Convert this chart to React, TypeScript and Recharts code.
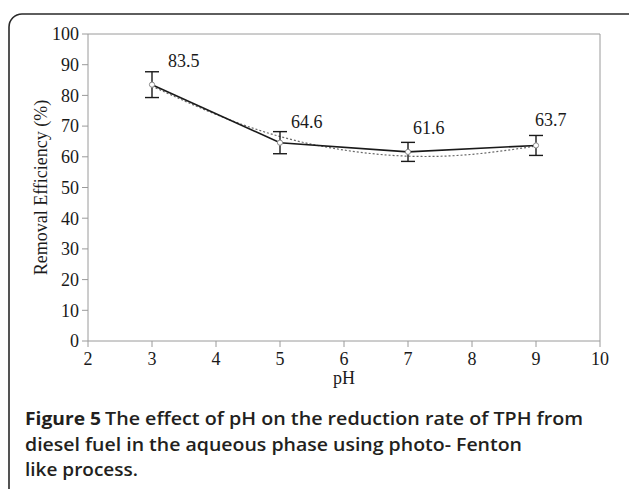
import React from 'react';
import { LineChart, Line, XAxis, YAxis, ErrorBar, LabelList, ReferenceLine, Label } from 'recharts';

const phLevels = [3, 5, 7, 9];
const removalEfficiency = [83.5, 64.6, 61.6, 63.7];
const errorValues = [4.2, 3.6, 3.1, 3.25];
const trendPh = [3, 4, 5, 6, 7, 8, 9];
const trendValues = [83.0, 73.8, 66.6, 62.2, 60.2, 60.8, 63.5];
const xTicks = [2, 3, 4, 5, 6, 7, 8, 9, 10];
const yTicks = [0, 10, 20, 30, 40, 50, 60, 70, 80, 90, 100];

const mainData = phLevels.map((p, i) => ({ ph: p, value: removalEfficiency[i], err: errorValues[i] }));
const trendData = trendPh.map((p, i) => ({ ph: p, trend: trendValues[i] }));

const serif = '"Liberation Serif", "Times New Roman", serif';
const sans = '"Open Sans", "Noto Sans", sans-serif';
const axisGrey = '#9a9a9a';
const textDark = '#1a1a1a';

// per-label placement (styling), mirroring the manual label nudges of the original
const labelNudge = [
  { dx: 16, dy: -18 },
  { dx: 11, dy: -15 },
  { dx: 5, dy: -18 },
  { dx: -1, dy: -19 },
];

const renderValueLabel = (props: any) => {
  const { x, y, value, index } = props;
  const n = labelNudge[index] || { dx: 10, dy: -16 };
  return (
    <text x={x + n.dx} y={y + n.dy} fontFamily={serif} fontSize={18} fill={textDark}>
      {Number(value).toFixed(1)}
    </text>
  );
};

const captionStyle: React.CSSProperties = { fontVariantLigatures: 'none' };

export default function App() {
  return (
    <div style={{ position: 'absolute', left: 0, top: 0, width: 629, height: 489, background: '#fff', overflow: 'hidden' }}>
      <svg width={629} height={489} style={{ position: 'absolute', left: 0, top: 0 }}>
        <rect x={9} y={14} width={640} height={490} rx={13} ry={13} fill="none" stroke="#2a2a2a" strokeWidth={1.6} />
        <text x={25} y={425} style={captionStyle} fontFamily={sans} fontSize={17.5} fontWeight={700} fill="#231f20" textLength={76} lengthAdjust="spacingAndGlyphs">
          Figure 5
        </text>
        <text x={105} y={425} style={captionStyle} fontFamily={sans} fontSize={17.5} fontWeight={600} fill="#231f20" textLength={478} lengthAdjust="spacingAndGlyphs">
          The effect of pH on the reduction rate of TPH from
        </text>
        <text x={25} y={451} style={captionStyle} fontFamily={sans} fontSize={17.5} fontWeight={600} fill="#231f20" textLength={497} lengthAdjust="spacingAndGlyphs">
          diesel fuel in the aqueous phase using photo- Fenton
        </text>
        <text x={25} y={476} style={captionStyle} fontFamily={sans} fontSize={17.5} fontWeight={600} fill="#231f20" textLength={113} lengthAdjust="spacingAndGlyphs">
          like process.
        </text>
      </svg>
      <div style={{ position: 'absolute', left: 0, top: 0 }}>
        <LineChart width={629} height={400} margin={{ top: 34, right: 29, left: 0, bottom: 9 }}>
          <XAxis
            type="number"
            dataKey="ph"
            domain={[2, 10]}
            ticks={xTicks}
            allowDataOverflow
            height={50}
            stroke={axisGrey}
            tickSize={6}
            tickMargin={5}
            tick={{ fontFamily: serif, fontSize: 18, fill: textDark }}
            tickLine={{ stroke: axisGrey }}
          >
            <Label
              content={(p: any) => {
                const vb = p.viewBox;
                return (
                  <text x={vb.x + vb.width / 2} y={vb.y + 43} textAnchor="middle" fontFamily={serif} fontSize={18} fill={textDark}>
                    pH
                  </text>
                );
              }}
            />
          </XAxis>
          <YAxis
            type="number"
            domain={[0, 100]}
            ticks={yTicks}
            width={88}
            stroke={axisGrey}
            tickSize={6}
            tickMargin={3}
            tick={{ fontFamily: serif, fontSize: 18, fill: textDark }}
            tickLine={{ stroke: axisGrey }}
          >
            <Label
              content={(p: any) => {
                const vb = p.viewBox;
                const cx = vb.x + 47;
                const cy = vb.y + vb.height / 2;
                return (
                  <text x={cx} y={cy} textAnchor="middle" transform={`rotate(-90 ${cx} ${cy})`} fontFamily={serif} fontSize={18} fill={textDark}>
                    Removal Efficiency (%)
                  </text>
                );
              }}
            />
          </YAxis>
          <ReferenceLine y={100} stroke={axisGrey} />
          <ReferenceLine x={10} stroke={axisGrey} />
          <Line
            data={trendData}
            dataKey="trend"
            type="natural"
            stroke="#6a6a6a"
            strokeWidth={1.2}
            strokeDasharray="2 2"
            dot={false}
            activeDot={false}
            isAnimationActive={false}
          />
          <Line
            data={mainData}
            dataKey="value"
            type="linear"
            stroke={textDark}
            strokeWidth={1.6}
            dot={{ r: 2.6, stroke: '#888', strokeWidth: 1, fill: '#fff' }}
            activeDot={false}
            isAnimationActive={false}
          >
            <ErrorBar dataKey="err" width={7} stroke={textDark} strokeWidth={1.4} direction="y" />
            <LabelList dataKey="value" content={renderValueLabel} />
          </Line>
        </LineChart>
      </div>
    </div>
  );
}
